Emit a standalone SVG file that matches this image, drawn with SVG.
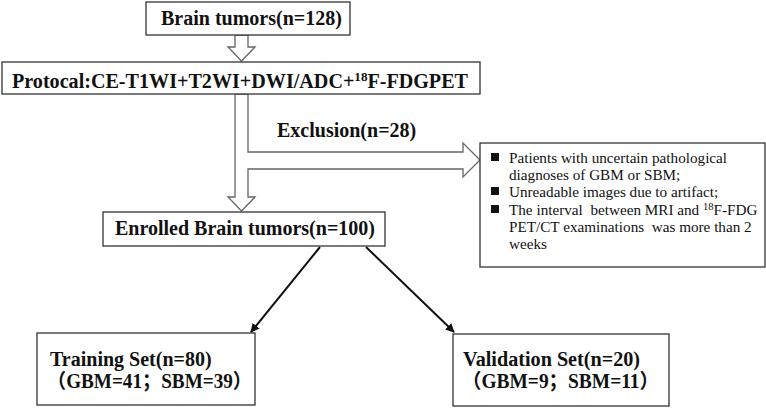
<svg xmlns="http://www.w3.org/2000/svg" width="766" height="408" viewBox="0 0 766 408">
<defs>
<marker id="ah" viewBox="0 0 10 10" refX="9" refY="5" markerWidth="9" markerHeight="9" markerUnits="userSpaceOnUse" orient="auto">
<path d="M0,0 L10,5 L0,10 z" fill="#111"/>
</marker>
<style>
.box{fill:#fff;stroke:#333;stroke-width:1.3}
.hollow{fill:#fff;stroke:#666;stroke-width:1.3;stroke-linejoin:miter}
.t{font-family:"Liberation Serif","Noto Sans CJK SC",serif;font-weight:bold;font-size:20px;fill:#111}
.s{font-family:"Liberation Serif","Noto Sans CJK SC",serif;font-size:15.2px;fill:#111}
.line{stroke:#111;stroke-width:2;fill:none}
</style>
</defs>
<rect width="766" height="408" fill="#fff"/>
<g id="connectors">
<polygon class="hollow" points="235,35 248,35 248,47 255,47 241.5,61 228,47 235,47"/>
<polygon class="hollow" points="235,94 248,94 248,152 463,152 463,143 480,160 463,177 463,169 248,169 248,197 255,197 241.5,211 228,197 235,197"/>
<text class="t" x="277" y="137">Exclusion(n=28)</text>
<line class="line" x1="320" y1="247" x2="251" y2="332" marker-end="url(#ah)"/>
<line class="line" x1="366" y1="247" x2="454" y2="332" marker-end="url(#ah)"/>
</g>
<g id="n1">
<rect class="box" x="146" y="2" width="204" height="33"/>
<text class="t" x="161" y="25">Brain tumors(n=128)</text>
</g>
<g id="n2">
<rect class="box" x="2" y="62" width="478" height="32"/>
<text class="t" x="12" y="88" textLength="456" lengthAdjust="spacingAndGlyphs">Protocal:CE-T1WI+T2WI+DWI/ADC+<tspan font-size="13" dy="-7">18</tspan><tspan dy="7">F-FDGPET</tspan></text>
</g>
<g id="n3">
<rect class="box" x="480" y="143" width="285" height="124"/>
<rect x="491" y="153" width="8" height="8" fill="#111"/>
<rect x="491" y="187" width="8" height="8" fill="#111"/>
<rect x="491" y="205" width="8" height="8" fill="#111"/>
<text class="s" x="509" y="163">Patients with uncertain pathological</text>
<text class="s" x="509" y="180">diagnoses of GBM or SBM;</text>
<text class="s" x="509" y="197">Unreadable images due to artifact;</text>
<text class="s" x="509" y="215" xml:space="preserve">The interval  between MRI and <tspan font-size="10.5" dy="-5">18</tspan><tspan dy="5">F-FDG</tspan></text>
<text class="s" x="509" y="232" xml:space="preserve">PET/CT examinations  was more than 2</text>
<text class="s" x="509" y="249">weeks</text>
</g>
<g id="n4">
<rect class="box" x="103" y="212" width="282" height="34"/>
<text class="t" x="115" y="235">Enrolled Brain tumors(n=100)</text>
</g>
<g id="n5">
<rect class="box" x="37" y="333" width="218" height="72"/>
<text class="t" x="50" y="366">Training Set(n=80)</text>
<text class="t" x="47" y="388" textLength="205" lengthAdjust="spacingAndGlyphs">（GBM=41；SBM=39）</text>
</g>
<g id="n6">
<rect class="box" x="453" y="334" width="216" height="72"/>
<text class="t" x="463" y="366" textLength="177" lengthAdjust="spacingAndGlyphs">Validation Set(n=20)</text>
<text class="t" x="462" y="388" textLength="197" lengthAdjust="spacingAndGlyphs">（GBM=9；SBM=11）</text>
</g>
</svg>
